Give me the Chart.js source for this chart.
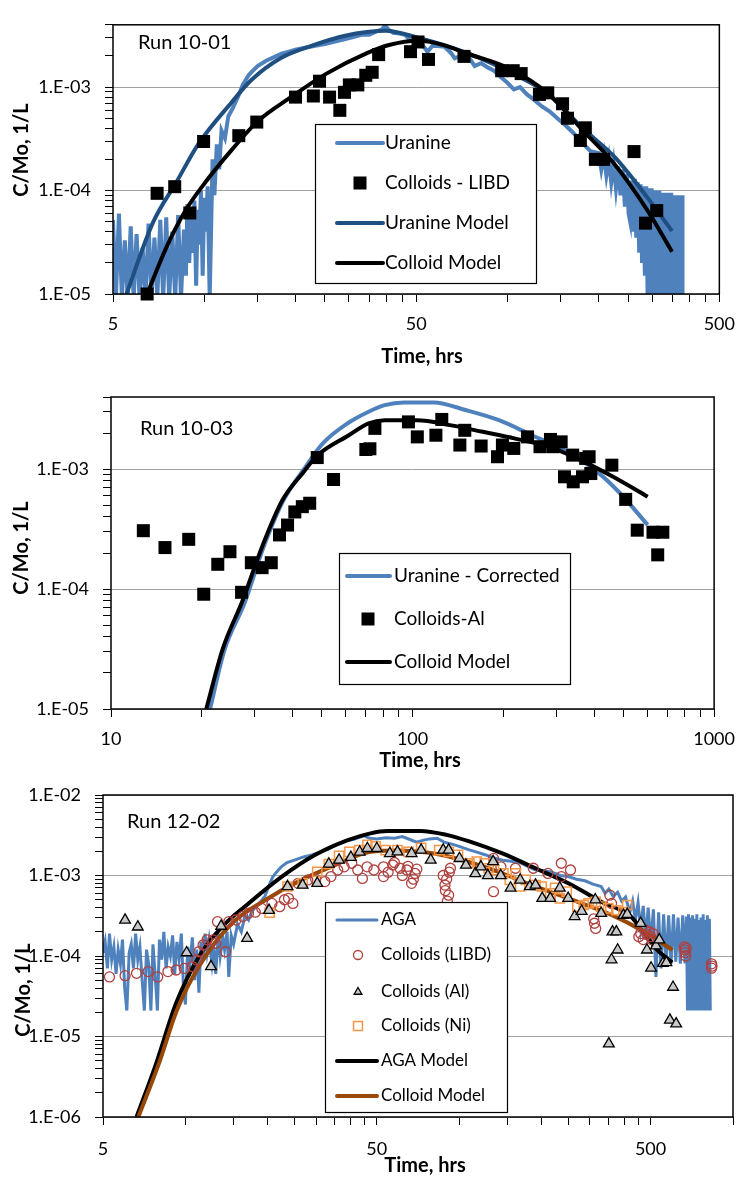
<!DOCTYPE html>
<html><head><meta charset="utf-8">
<script src="https://cdn.jsdelivr.net/npm/chart.js@4.4.1/dist/chart.umd.min.js"></script>
<style>
html,body{margin:0;padding:0;background:#fff;}
#wrap{position:relative;width:746px;height:1177px;overflow:hidden;background:#fff;}
canvas{position:absolute;left:0;}
</style></head><body>
<div id="wrap">
<canvas id="c1" width="746" height="372" style="top:0px;width:746px;height:372px"></canvas>
<canvas id="c2" width="746" height="398" style="top:372px;width:746px;height:398px"></canvas>
<canvas id="c3" width="746" height="407" style="top:770px;width:746px;height:407px"></canvas>
</div>
<script>
// ================= DATA =================
// ---- Run 10-01 ----
const run1UranineTime = [
5.00,5.11,5.23,5.35,5.47,5.59,5.72,5.85,5.98,6.12,
6.26,6.40,6.55,6.70,6.85,7.00,7.16,7.32,7.49,7.66,
7.84,8.02,8.20,8.38,8.57,8.70,8.80,8.92,9.05,9.15,
9.28,9.40,9.52,9.62,9.75,9.88,10.0,10.12,10.26,10.42,
10.65,10.8,11.0,11.2,11.4,11.7,12.0,12.4,12.9,13.4,
14.0,14.5,15.0,16.0,17.0,18.0,19.0,20.0,21.5,23.0,
25.0,27.0,29.0,31.0,33.0,35.0,37.0,38.5,39.5,40.5,
42.0,44.0,46.0,48.0,50.0,52.0,54.5,56.5,59.0,62.0,
65.0,67.0,70.0,74.0,78.0,82.0,86.0,90.0,95.0,100,
105,110,116,122,130,138,146,155,165,176,
188,200,204,208,212,216,220,224,228,232,
236,240,244,248,251,254,257,260,263,266,
269,272,275,278,281,284,287,290,293,296,
299,302,305,308,311,314,317,320,323,326,
329,332,335,338,341,344,347,350,353,356,
359,362,365,368,371,374,377,378];
const run1UranineConc = [
5.2e-5,0.9e-5,6.0e-5,0.9e-5,3.3e-5,0.9e-5,4.5e-5,0.9e-5,3.8e-5,0.9e-5,
2.8e-5,0.9e-5,4.8e-5,0.9e-5,3.5e-5,0.9e-5,5.2e-5,0.9e-5,5.5e-5,0.9e-5,
4.0e-5,0.9e-5,5.8e-5,0.9e-5,4.2e-5,1.5e-5,7.4e-5,2.0e-5,6.0e-5,2.5e-5,
8.0e-5,1.2e-5,6.5e-5,3.0e-5,1.0e-4,1.5e-5,8.5e-5,4.0e-5,1.1e-4,0.9e-5,
2.0e-4,9e-5,2.8e-4,1.6e-4,3.8e-4,3.2e-4,5.2e-4,6.2e-4,8.0e-4,1.05e-3,
1.3e-3,1.45e-3,1.6e-3,1.8e-3,1.95e-3,2.1e-3,2.2e-3,2.3e-3,2.4e-3,2.5e-3,
2.6e-3,2.75e-3,2.9e-3,3.05e-3,3.2e-3,3.2e-3,3.45e-3,3.6e-3,3.95e-3,3.6e-3,
3.35e-3,3.3e-3,3.2e-3,2.8e-3,2.7e-3,2.65e-3,2.2e-3,2.5e-3,2.5e-3,2.45e-3,
2.15e-3,1.9e-3,2.0e-3,2.0e-3,1.6e-3,1.7e-3,1.55e-3,1.45e-3,1.25e-3,1.1e-3,
9.5e-4,1.0e-3,8.5e-4,7.6e-4,6.5e-4,5.8e-4,5.0e-4,4.3e-4,3.6e-4,2.9e-4,
2.4e-4,2.3e-4,1.6e-4,2.2e-4,1.4e-4,2.0e-4,1.2e-4,1.8e-4,1.05e-4,1.7e-4,
9e-5,1.6e-4,7e-5,1.45e-4,6e-5,5e-5,1.25e-4,4e-5,1.3e-4,3.5e-5,
1.2e-4,2.5e-5,1.15e-4,2.0e-5,1.1e-4,1.5e-5,1.1e-4,0.9e-5,1.05e-4,0.9e-5,
1.05e-4,0.9e-5,1.0e-4,0.9e-5,1.0e-4,0.9e-5,1.0e-4,0.9e-5,9.5e-5,0.9e-5,
9.5e-5,0.9e-5,9.5e-5,0.9e-5,9.5e-5,0.9e-5,9.5e-5,0.9e-5,9.0e-5,0.9e-5,
9.0e-5,0.9e-5,9.0e-5,0.9e-5,9.0e-5,0.9e-5,9.0e-5,0.9e-5];
const run1ColloidTime = [6.48,6.99,7.99,8.96,9.95,13.0,14.9,20.0,22.9,24.0,25.9,28.0,29.0,30.1,32.1,34.1,35.8,37.6,47.9,50.7,54.9,71.9,95.7,104.5,111,127.5,135.8,152,157.8,174,180.7,195,207.5,261.5,285.4,310.8];
const run1ColloidConc = [1.0e-5,9.4e-5,1.09e-4,6.07e-5,2.98e-4,3.39e-4,4.59e-4,8.0e-4,8.2e-4,1.14e-3,8.0e-4,5.96e-4,8.9e-4,1.05e-3,1.05e-3,1.3e-3,1.39e-3,2.06e-3,2.2e-3,2.73e-3,1.85e-3,1.98e-3,1.44e-3,1.44e-3,1.35e-3,8.5e-4,8.8e-4,6.9e-4,5.0e-4,3.05e-4,4.04e-4,2.0e-4,2.0e-4,2.38e-4,4.84e-5,6.4e-5];
const run1UranineModelTime = [5.54,6.76,8.1,9.58,12.3,14.3,17.9,22.9,29.4,34.4,39.7,50.6,73.7,107,136.8,176.5,226,290,349];
const run1UranineModelConc = [1e-5,4.84e-5,1.21e-4,2.84e-4,7.1e-4,1.17e-3,1.91e-3,2.54e-3,3.15e-3,3.4e-3,3.5e-3,3.0e-3,2.13e-3,1.3e-3,8.5e-4,4.04e-4,2.1e-4,8.5e-5,4.06e-5];
const run1ColloidModelTime = [6.48,7.47,8.67,10.1,12.3,15.0,19.2,25.3,34.4,40.7,50.7,60,74,102,137,176,226,290,349];
const run1ColloidModelConc = [1e-5,2.75e-5,6.4e-5,1.21e-4,2.46e-4,4.66e-4,7.9e-4,1.35e-3,2.13e-3,2.55e-3,2.8e-3,2.6e-3,2.1e-3,1.5e-3,8.5e-4,3.9e-4,1.79e-4,6.4e-5,2.56e-5];

// ---- Run 10-03 ----
const run2UranineTime = [21.3,23.8,27.7,32.1,37.3,43.4,50.4,61.5,71.2,80.8,93.8,117.5,150.8,193.5,248.6,319,409.6,487.7,602];
const run2UranineConc = [1e-5,3.12e-5,7.6e-5,2.26e-4,5.5e-4,9.8e-4,1.64e-3,2.45e-3,3.0e-3,3.42e-3,3.6e-3,3.6e-3,3.1e-3,2.56e-3,1.92e-3,1.44e-3,9.5e-4,6.3e-4,3.43e-4];
const run2ColloidTime = [12.8,15.1,18.1,20.3,22.6,24.8,27.1,29.2,31.7,34.0,36.2,38.5,40.7,43.1,45.6,48.3,54.7,70.0,72.2,75.0,96.9,103.7,119.5,125,143.5,149,168.8,191.3,198.6,216.6,240.6,264.6,286.6,292,311,319,339.6,341,366,375,385,390,458,509,556,627,650,676];
const run2ColloidConc = [3.07e-4,2.22e-4,2.6e-4,9.06e-5,1.61e-4,2.05e-4,9.4e-5,1.66e-4,1.51e-4,1.66e-4,2.83e-4,3.42e-4,4.4e-4,4.87e-4,5.2e-4,1.25e-3,8.2e-4,1.46e-3,1.48e-3,2.19e-3,2.48e-3,1.86e-3,1.92e-3,2.6e-3,1.59e-3,2.11e-3,1.56e-3,1.27e-3,1.59e-3,1.49e-3,1.86e-3,1.54e-3,1.77e-3,1.54e-3,1.69e-3,8.64e-4,1.31e-3,7.85e-4,8.64e-4,1.23e-3,1.27e-3,9.2e-4,1.08e-3,5.6e-4,3.1e-4,2.98e-4,1.93e-4,2.98e-4];
const run2ModelTime = [20.7,23.5,27.3,31.8,37.0,43.4,48.5,61.5,71.2,80.8,103.7,133,171,219,282,361,464,602];
const run2ModelConc = [1e-5,3.2e-5,8e-5,2.3e-4,5.5e-4,9.4e-4,1.31e-3,1.92e-3,2.4e-3,2.56e-3,2.56e-3,2.33e-3,2.05e-3,1.8e-3,1.54e-3,1.19e-3,8.6e-4,5.9e-4];

// ---- Run 12-02 ----
const run3AgaTime = [
5.00,5.09,5.19,5.28,5.38,5.48,5.58,5.68,5.79,5.89,
6.00,6.11,6.23,6.34,6.46,6.58,6.70,6.82,6.95,7.08,
7.21,7.34,7.48,7.61,7.75,7.90,8.04,8.19,8.34,8.50,
8.65,8.81,8.98,9.14,9.31,9.48,9.66,9.84,10.0,10.2,
10.4,10.6,10.8,11.0,11.2,11.4,11.6,11.8,12.0,12.2,
12.5,12.7,12.9,13.2,13.4,13.7,13.9,14.2,14.4,14.7,
15.0,15.5,16.0,16.5,17.0,17.5,18.0,18.7,19.5,20.2,
20.8,21.5,22.5,23.5,25.0,27.0,29.0,31.0,33.0,35.0,
37.0,39.0,41.0,43.0,45.0,47.0,50.0,54.0,58.0,62.0,
66.0,70.0,74.0,78.0,83.0,88.0,94.0,100,108,116,
125,134,144,155,166,178,190,204,218,234,
250,268,288,308,330,341,352,365,379,392,
405,420,430,440,450,460,470,480,490,501,
512,523,535,546,558,570,582,594,606,618,
630,642,655,668,676,682,688,694,700,706,
712,718,725,731,738,744,751,757,764,771,
778,785,792,799,806,813,820,826];
const run3AgaConc = [
1.1e-4,1.5e-4,7e-5,1.9e-4,9e-5,1.3e-4,6e-5,1.2e-4,8e-5,1.6e-4,
4e-5,2.1e-5,1.1e-4,1.4e-4,7e-5,1.9e-4,9e-5,1.3e-4,5e-5,2.1e-5,
1.2e-4,8e-5,2.1e-5,1.4e-4,6e-5,2.1e-5,1.6e-4,9e-5,2.0e-4,7e-5,
1.3e-4,1.0e-4,1.8e-4,6e-5,1.5e-4,9e-5,1.9e-4,4e-5,2.5e-5,1.3e-4,
8e-5,1.7e-4,5e-5,1.2e-4,3.5e-5,1.5e-4,9e-5,1.9e-4,1.1e-4,1.6e-4,
8e-5,1.3e-4,6e-5,1.9e-4,1.0e-4,1.7e-4,1.2e-4,2.0e-4,5.5e-5,1.8e-4,
1.4e-4,2.5e-4,2.0e-4,3.2e-4,2.8e-4,3.6e-4,4.0e-4,4.6e-4,5.5e-4,7.5e-4,
9.5e-4,1.1e-3,1.3e-3,1.45e-3,1.55e-3,1.7e-3,1.8e-3,1.95e-3,2.1e-3,2.35e-3,
2.55e-3,2.75e-3,2.8e-3,2.95e-3,3.1e-3,2.9e-3,2.85e-3,2.95e-3,2.9e-3,3.05e-3,
2.8e-3,2.6e-3,2.75e-3,2.85e-3,2.9e-3,2.6e-3,2.45e-3,2.3e-3,2.1e-3,1.95e-3,
1.8e-3,1.65e-3,1.55e-3,1.5e-3,1.45e-3,1.3e-3,1.17e-3,1.15e-3,1.1e-3,1.0e-3,
9.7e-4,9.0e-4,8.6e-4,7.8e-4,7.3e-4,6.0e-4,6.8e-4,5.5e-4,6.2e-4,4.8e-4,
5.4e-4,3.5e-4,4.8e-4,2.8e-4,4.6e-4,2.2e-4,4.2e-4,1.6e-4,4.0e-4,1.44e-4,
3.8e-4,5.5e-5,3.5e-4,7e-5,3.3e-4,8e-5,3.2e-4,8e-5,3.3e-4,8.5e-5,
3.0e-4,8e-5,3.2e-4,8.1e-5,3.1e-4,2.1e-5,3.3e-4,2.1e-5,3.0e-4,2.1e-5,
3.2e-4,2.1e-5,2.9e-4,2.1e-5,3.3e-4,2.1e-5,2.8e-4,2.1e-5,3.0e-4,2.1e-5,
3.3e-4,2.1e-5,2.8e-4,2.1e-5,3.2e-4,2.1e-5,2.9e-4,2.1e-5];
const run3LibdTime = [5.28,6.02,6.63,7.31,7.92,8.63,9.25,9.92,10.6,11.0,11.2,11.6,12.0,12.6,12.9,13.1,14.0,14.4,15.3,16.2,17.0,18.0,19.0,20.7,22.1,23.0,23.8,24.7,25.8,28.0,29.9,32.3,34.0,36.0,38.0,40.5,42.6,44.3,46.1,48.8,52.9,52.9,57.2,60.8,64.4,67.0,69.0,87.4,88.7,91.5,92.9,133.4,133.4,142,160.5,186.5,211,236,236,255,312,355,360,453,478,500,667,672,835,835,
55,58,62,65,68,70,89,90,92,90.5,460,470,485,495,505,510,665,670,675,838,310,315];
const run3LibdConc = [5.5e-5,5.7e-5,6.1e-5,6.4e-5,5.5e-5,6.4e-5,6.7e-5,7.0e-5,7.4e-5,8.9e-5,1.13e-4,1.37e-4,1.59e-4,1.59e-4,1.44e-4,2.67e-4,1.13e-4,2.67e-4,2.8e-4,3.1e-4,3.4e-4,3.5e-4,3.9e-4,4.5e-4,4.1e-4,5.0e-4,5.2e-4,4.5e-4,8.0e-4,8.8e-4,9.0e-4,8.4e-4,9.7e-4,1.17e-3,1.28e-3,1.42e-3,1.17e-3,9.2e-4,1.28e-3,1.17e-3,1.28e-3,9.7e-4,1.35e-3,1.23e-3,1.17e-3,8.0e-4,1.06e-3,1.0e-3,7.6e-4,5.7e-4,1.23e-3,1.63e-3,6.3e-4,1.28e-3,1.23e-3,1.23e-3,1.06e-3,1.42e-3,9.7e-4,1.17e-3,2.55e-4,5.7e-4,4.5e-4,1.74e-4,2.1e-4,1.74e-4,1.19e-4,1.0e-4,7.06e-5,8.0e-5,
1.1e-3,1.45e-3,1.0e-3,1.3e-3,9.0e-4,1.2e-3,6.5e-4,9.0e-4,1.1e-3,4.8e-4,1.9e-4,1.6e-4,1.85e-4,2.0e-4,1.6e-4,1.9e-4,1.3e-4,1.1e-4,1.25e-4,7.5e-5,2.9e-4,2.2e-4];
const run3AlTime = [6.02,6.7,10.1,12.4,13.5,16.8,20.2,23.6,26.8,30.3,33.4,36.4,40.2,43.3,46.2,50.0,55.8,59.5,67,72.6,78.7,87.4,91.5,100.2,105.8,114.5,120,127.2,133,141.8,154,167,181,190,201,215,233,250,264,280,314,330,363,375,379,360,398,411,460,485,502,523,538,555,571,604,588,620,352];
const run3AlConc = [2.8e-4,2.3e-4,1.1e-4,7.4e-5,2.35e-4,1.66e-4,3.7e-4,7.3e-4,7.6e-4,8.0e-4,1.39e-3,1.56e-3,1.68e-3,1.96e-3,2.17e-3,2.17e-3,1.88e-3,1.97e-3,1.88e-3,2.07e-3,1.56e-3,2.07e-3,2.07e-3,1.63e-3,1.35e-3,1.06e-3,1.28e-3,1.0e-3,1.49e-3,1.0e-3,7.0e-4,8.8e-4,7.3e-4,7.6e-4,5.2e-4,5.2e-4,7.0e-4,5.2e-4,3.1e-4,3.6e-4,5.0e-4,3.4e-4,2.0e-4,2.0e-4,1.19e-4,9.0e-5,3.2e-4,3.3e-4,2.55e-4,1.19e-4,7.1e-5,1.34e-4,1.59e-4,8.1e-5,8.3e-5,4.1e-5,1.6e-5,1.44e-5,8.1e-6];
const run3NiTime = [20.3,23.6,26.8,30.3,33.4,36.4,39.7,43.2,46.2,49.5,53.9,59.5,65.3,72.6,84.5,91.5,99,108.9,116,124,128,134,145,153,161,167,175,190,200,215,224,233,247,270,285,297,315,330,350,375,398,411];
const run3NiConc = [3.46e-4,7.3e-4,8.0e-4,1.11e-3,1.39e-3,1.75e-3,1.97e-3,2.07e-3,2.4e-3,2.3e-3,2.07e-3,2.07e-3,1.97e-3,2.2e-3,2.07e-3,1.97e-3,1.8e-3,1.42e-3,1.49e-3,1.42e-3,1.23e-3,1.17e-3,1.06e-3,8.8e-4,1.06e-3,7.3e-4,8.8e-4,7.6e-4,7.3e-4,6.0e-4,7.0e-4,5.2e-4,6.3e-4,4.1e-4,4.3e-4,4.5e-4,4.7e-4,4.1e-4,3.9e-4,3.7e-4,3.5e-4,4.3e-4];
const run3AgaModelTime = [6.63,7.83,9.25,11.2,13.6,17.0,22.5,29.7,39.2,47.4,54.5,71.9,89.8,108.9,143.8,189.8,250.5,330,424,474,529,600];
const run3AgaModelConc = [1e-6,4.68e-6,2.6e-5,9.8e-5,2.3e-4,4.5e-4,9.7e-4,1.8e-3,2.76e-3,3.34e-3,3.57e-3,3.57e-3,3.2e-3,2.65e-3,1.88e-3,1.23e-3,8.0e-4,4.73e-4,3.08e-4,1.92e-4,1.19e-4,8.3e-5];
const run3ColloidModelTime = [6.73,8.0,9.3,11.2,14.8,19.6,25.8,34.0,47.4,60,75,90,110,140,180,250,360,474,601];
const run3ColloidModelConc = [1e-6,4.6e-6,2.1e-5,7.4e-5,2.55e-4,4.97e-4,8.4e-4,1.28e-3,1.97e-3,2.05e-3,1.95e-3,1.75e-3,1.45e-3,1.1e-3,7.8e-4,5.2e-4,3.24e-4,2.0e-4,1.19e-4];

// ---- Axis ticks ----
const xTicks1 = [5,10,15,20,25,30,35,40,45,50,100,150,200,250,300,350,400,450,500];
const xMajor1 = [5,50,500];
const xLabels1 = ['5','50','500'];
const xTicks2 = [10,20,30,40,50,60,70,80,90,100,200,300,400,500,600,700,800,900,1000];
const xMajor2 = [10,100,1000];
const xLabels2 = ['10','100','1000'];
const xTicks3 = [5,10,15,20,25,30,35,40,45,50,100,150,200,250,300,350,400,450,500,1000];
const xMajor3 = [5,50,500];
const xLabels3 = ['5','50','500'];
const yTicksA = [1e-5,2e-5,3e-5,4e-5,5e-5,6e-5,7e-5,8e-5,9e-5,1e-4,2e-4,3e-4,4e-4,5e-4,6e-4,7e-4,8e-4,9e-4,1e-3,2e-3,3e-3,4e-3];
const yMajorA = [1e-5,1e-4,1e-3];
const yLabelsA = ['1.E-05','1.E-04','1.E-03'];
const yTicks3 = [1e-6,2e-6,3e-6,4e-6,5e-6,6e-6,7e-6,8e-6,9e-6,1e-5,2e-5,3e-5,4e-5,5e-5,6e-5,7e-5,8e-5,9e-5,1e-4,2e-4,3e-4,4e-4,5e-4,6e-4,7e-4,8e-4,9e-4,1e-3,2e-3,3e-3,4e-3,5e-3,6e-3,7e-3,8e-3,9e-3,1e-2];
const yMajor3 = [1e-6,1e-5,1e-4,1e-3,1e-2];
const yLabels3 = ['1.E-06','1.E-05','1.E-04','1.E-03','1.E-02'];

// ================= HELPERS =================
function pts(xs, ys){ return xs.map((x,i)=>({x:x, y:ys[i]})); }
function idxOf(v, arr){ for(let i=0;i<arr.length;i++){ if(Math.abs(arr[i]-v) <= Math.abs(arr[i])*1e-6) return i; } return -1; }

function marker(ctx, style, x, y, r, fill, stroke, bw){
  ctx.beginPath();
  if(style==='rect'){ const s=r*Math.SQRT1_2; ctx.rect(x-s,y-s,2*s,2*s); }
  else if(style==='circle'){ ctx.arc(x,y,r,0,2*Math.PI); }
  else if(style==='triangle'){
    for(let k=0;k<3;k++){ const a=k*2*Math.PI/3; const px=x+Math.sin(a)*r, py=y-Math.cos(a)*r; if(k) ctx.lineTo(px,py); else ctx.moveTo(px,py); }
    ctx.closePath();
  }
  if(fill && fill!=='transparent' && fill!=='rgba(0,0,0,0)'){ ctx.fillStyle=fill; ctx.fill(); }
  if(bw>0){ ctx.strokeStyle=stroke; ctx.lineWidth=bw; ctx.stroke(); }
}

const decor = {
  id:'decor',
  afterDatasetsDraw(chart, args, o){
    if(!o || !o.run) return;
    const ctx = chart.ctx, a = chart.chartArea, dy = o.offY;
    ctx.save();
    ctx.strokeStyle='#000'; ctx.lineWidth=1.5;
    ctx.strokeRect(a.left, a.top, a.right-a.left, a.bottom-a.top);
    ctx.fillStyle='#000'; ctx.textBaseline='middle'; ctx.textAlign='left';
    ctx.font='20px Lato';
    ctx.fillText(o.run.text, o.run.x, o.run.y-dy);
    const L = o.legend;
    ctx.fillStyle='#fff'; ctx.fillRect(L.box[0], L.box[1]-dy, L.box[2], L.box[3]);
    ctx.lineWidth=1.2; ctx.strokeStyle='#000';
    ctx.strokeRect(L.box[0]+0.5, L.box[1]-dy+0.5, L.box[2], L.box[3]);
    chart.data.datasets.forEach((ds,i)=>{
      const y = L.rows[i]-dy;
      if(ds.showLine){
        ctx.beginPath(); ctx.moveTo(L.sx0,y); ctx.lineTo(L.sx1,y);
        ctx.strokeStyle=ds.borderColor; ctx.lineWidth=L.lw ? L.lw[i] : ds.borderWidth; ctx.lineCap='round'; ctx.stroke();
      } else {
        marker(ctx, ds.pointStyle, L.mx, y, L.mr ? L.mr[i] : ds.pointRadius, ds.backgroundColor, ds.borderColor, ds.borderWidth);
      }
      ctx.fillStyle='#000'; ctx.font=L.font; ctx.textAlign='left'; ctx.textBaseline='middle';
      ctx.fillText(ds.label, L.tx, y);
    });
    ctx.font='bold 20px Lato'; ctx.textAlign='center'; ctx.fillStyle='#000';
    ctx.fillText(o.xTitle.text, o.xTitle.x, o.xTitle.y-dy);
    ctx.save(); ctx.translate(o.yTitle.x, o.yTitle.y-dy); ctx.rotate(-Math.PI/2);
    ctx.fillText(o.yTitle.text, 0, 0); ctx.restore();
    ctx.restore();
  }
};
Chart.register(decor);
Chart.defaults.font.family = 'Lato';
Chart.defaults.color = '#000';

function makePanel(id, P){
  const H = P.h;
  return new Chart(document.getElementById(id), {
    type:'scatter',
    data:{ datasets:P.datasets },
    options:{
      responsive:false, animation:false, devicePixelRatio:1, events:[],
      layout:{ autoPadding:false, padding:{ top:P.area.top, right:746-P.area.right, left:0, bottom:0 } },
      plugins:{ legend:{display:false}, tooltip:{enabled:false}, decor:P.decor },
      scales:{
        x:{ type:'logarithmic', min:P.x.min, max:P.x.max, position:'bottom',
          afterBuildTicks:(s)=>{ s.ticks = P.x.ticks.map(v=>({value:v})); },
          afterFit:(s)=>{ s.height = H - P.area.bottom; },
          ticks:{ autoSkip:false, maxRotation:0, minRotation:0, padding:P.xPad, font:{size:18, family:'Lato'}, color:'#000',
            callback:(v)=>{ const k=idxOf(v,P.x.major); return k>=0 ? P.x.labels[k] : ''; } },
          grid:{ drawOnChartArea:false, drawTicks:true, tickLength:8, tickColor:'#000', tickWidth:1 },
          border:{ display:false }
        },
        y:{ type:'logarithmic', min:P.y.min, max:P.y.max, position:'left',
          afterBuildTicks:(s)=>{ s.ticks = P.y.ticks.map(v=>({value:v})); },
          afterFit:(s)=>{ s.width = P.area.left; },
          ticks:{ autoSkip:false, padding:14, font:{size:18, family:'Lato'}, color:'#000',
            callback:(v)=>{ const k=idxOf(v,P.y.major); return k>=0 ? P.y.labels[k] : ''; } },
          grid:{ drawOnChartArea:true, drawTicks:true, tickLength:8, tickColor:'#000', tickWidth:1, lineWidth:1,
            color:(c)=>{ const t=c.tick; return (t && idxOf(t.value,P.y.major)>=0) ? '#A0A0A0' : 'rgba(0,0,0,0)'; } },
          border:{ display:false }
        }
      }
    }
  });
}

// ---- Panel 1 ----
makePanel('c1', {
  h:372, area:{left:113, right:729, top:12, bottom:294}, xPad:11,
  x:{min:5, max:500, ticks:xTicks1, major:xMajor1, labels:xLabels1},
  y:{min:1e-5, max:4e-3, ticks:yTicksA, major:yMajorA, labels:yLabelsA},
  datasets:[
    {label:'Uranine', data:pts(run1UranineTime, run1UranineConc), showLine:true, borderColor:'#4F81BD', borderWidth:4, pointRadius:0, tension:0, order:4},
    {label:'Colloids - LIBD', data:pts(run1ColloidTime, run1ColloidConc), showLine:false, pointStyle:'rect', pointRadius:9.2, backgroundColor:'#000', borderColor:'#000', borderWidth:0, order:1, clip:false},
    {label:'Uranine Model', data:pts(run1UranineModelTime, run1UranineModelConc), showLine:true, borderColor:'#1F4E80', borderWidth:4, pointRadius:0, cubicInterpolationMode:'monotone', order:3},
    {label:'Colloid Model', data:pts(run1ColloidModelTime, run1ColloidModelConc), showLine:true, borderColor:'#000', borderWidth:4, pointRadius:0, cubicInterpolationMode:'monotone', order:2}
  ],
  decor:{ offY:0,
    run:{text:'Run 10-01', x:138, y:43},
    xTitle:{text:'Time, hrs', x:422, y:357},
    yTitle:{text:'C/Mo, 1/L', x:22, y:150},
    legend:{box:[315,124,221,159], sx0:337, sx1:383, mx:360, tx:385, rows:[143,183,223,263], font:'19px Lato'} }
});

// ---- Panel 2 ----
makePanel('c2', {
  h:398, area:{left:111, right:725, top:25, bottom:337}, xPad:11,
  x:{min:10, max:1000, ticks:xTicks2, major:xMajor2, labels:xLabels2},
  y:{min:1e-5, max:4e-3, ticks:yTicksA, major:yMajorA, labels:yLabelsA},
  datasets:[
    {label:'Uranine - Corrected', data:pts(run2UranineTime, run2UranineConc), showLine:true, borderColor:'#4F81BD', borderWidth:4, pointRadius:0, cubicInterpolationMode:'monotone', order:3},
    {label:'Colloids-Al', data:pts(run2ColloidTime, run2ColloidConc), showLine:false, pointStyle:'rect', pointRadius:9.2, backgroundColor:'#000', borderColor:'#000', borderWidth:0, order:1, clip:false},
    {label:'Colloid Model', data:pts(run2ModelTime, run2ModelConc), showLine:true, borderColor:'#000', borderWidth:4, pointRadius:0, cubicInterpolationMode:'monotone', order:2}
  ],
  decor:{ offY:372,
    run:{text:'Run 10-03', x:140, y:429},
    xTitle:{text:'Time, hrs', x:420, y:761},
    yTitle:{text:'C/Mo, 1/L', x:22, y:548},
    legend:{box:[339,553,231,131], sx0:347, sx1:390, mx:368, tx:394, rows:[576,619,662], font:'19px Lato'} }
});

// ---- Panel 3 ----
makePanel('c3', {
  h:407, area:{left:103, right:739, top:25, bottom:347}, xPad:13,
  x:{min:5, max:1000, ticks:xTicks3, major:xMajor3, labels:xLabels3},
  y:{min:1e-6, max:1e-2, ticks:yTicks3, major:yMajor3, labels:yLabels3},
  datasets:[
    {label:'AGA', data:pts(run3AgaTime, run3AgaConc), showLine:true, borderColor:'#4F81BD', borderWidth:3, pointRadius:0, tension:0, order:7},
    {label:'Colloids (LIBD)', data:pts(run3LibdTime, run3LibdConc), showLine:false, pointStyle:'circle', pointRadius:5, backgroundColor:'rgba(0,0,0,0)', borderColor:'#B0413E', borderWidth:1.3, order:4, clip:false},
    {label:'Colloids (Al)', data:pts(run3AlTime, run3AlConc), showLine:false, pointStyle:'triangle', pointRadius:6.2, backgroundColor:'#C8C8C8', borderColor:'#000', borderWidth:1.3, order:2, clip:false},
    {label:'Colloids (Ni)', data:pts(run3NiTime, run3NiConc), showLine:false, pointStyle:'rect', pointRadius:6.5, backgroundColor:'rgba(0,0,0,0)', borderColor:'#F79646', borderWidth:1.5, order:3, clip:false},
    {label:'AGA Model', data:pts(run3AgaModelTime, run3AgaModelConc), showLine:true, borderColor:'#000', borderWidth:4, pointRadius:0, cubicInterpolationMode:'monotone', order:6},
    {label:'Colloid Model', data:pts(run3ColloidModelTime, run3ColloidModelConc), showLine:true, borderColor:'#984807', borderWidth:4, pointRadius:0, cubicInterpolationMode:'monotone', order:5}
  ],
  decor:{ offY:770,
    run:{text:'Run 12-02', x:127, y:822},
    xTitle:{text:'Time, hrs', x:425, y:1166},
    yTitle:{text:'C/Mo, 1/L', x:24, y:990},
    legend:{box:[325,902,182,210], sx0:337, sx1:377, mx:358, tx:381, rows:[920,955,992,1026,1061,1096], font:'17px Lato', mr:[0,4.5,4.5,6.3,0,0], lw:[3,0,0,0,4,4]} }
});
</script>
</body></html>
